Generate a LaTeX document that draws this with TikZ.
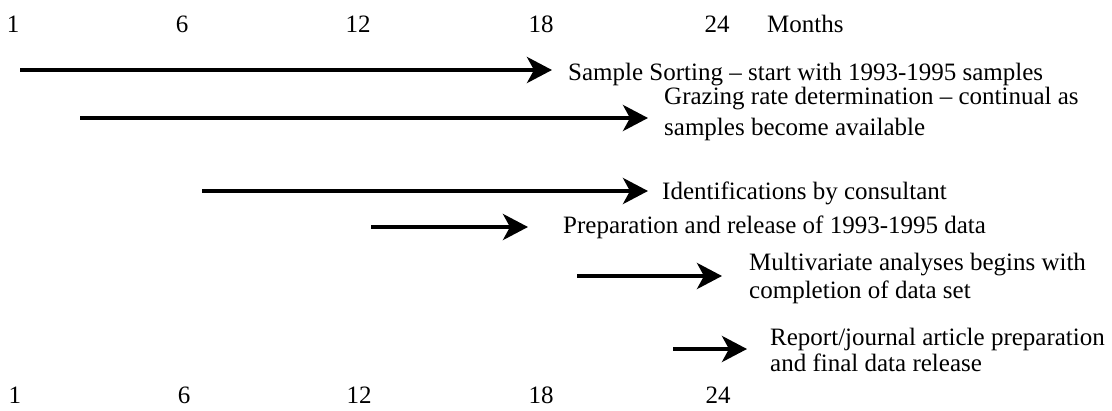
\documentclass[tikz,border=0pt]{standalone}
\usepackage{fontspec}
\setmainfont{Liberation Serif}
\usetikzlibrary{arrows.meta}
\begin{document}
\begin{tikzpicture}[x=1pt,y=-1pt,
  lbl/.style={anchor=base west,inner sep=0pt,font=\fontsize{25}{28}\selectfont},
  num/.style={anchor=base,inner sep=0pt,font=\fontsize{25}{28}\selectfont},
  bar/.style={line width=4pt,-{Stealth[length=25pt,width=26pt,inset=7pt]}}]
\useasboundingbox (0,0) rectangle (1112,410);
% top axis
\node[num] (a1) at (13,32) {1};
\node[num] (a6) at (182,32) {6};
\node[num] (a12) at (358,32) {12};
\node[num] (a18) at (541,32) {18};
\node[num] (a24) at (717,32) {24};
\node[lbl] (am) at (767,32) {Months};
% bottom axis
\node[num] (b1) at (15,403) {1};
\node[num] (b6) at (184,403) {6};
\node[num] (b12) at (359,403) {12};
\node[num] (b18) at (541,403) {18};
\node[num] (b24) at (718,403) {24};
% tasks
\coordinate (s1) at (20,70);  \coordinate (e1) at (552,70);
\node[lbl] (t1) at (568,80) {Sample Sorting – start with 1993-1995 samples};
\coordinate (s2) at (80,118); \coordinate (e2) at (648,118);
\node[lbl] (t2a) at (664,104) {Grazing rate determination – continual as};
\node[lbl] (t2b) at (664,135) {samples become available};
\coordinate (s3) at (202,191); \coordinate (e3) at (648,191);
\node[lbl] (t3) at (662,199) {Identifications by consultant};
\coordinate (s4) at (371,227); \coordinate (e4) at (528,227);
\node[lbl] (t4) at (563,233) {Preparation and release of 1993-1995 data};
\coordinate (s5) at (577,276); \coordinate (e5) at (722,276);
\node[lbl] (t5a) at (749,270) {Multivariate analyses begins with};
\node[lbl] (t5b) at (749,298) {completion of data set};
\coordinate (s6) at (673,349); \coordinate (e6) at (747,349);
\node[lbl] (t6a) at (770,345) {Report/journal article preparation};
\node[lbl] (t6b) at (770,371) {and final data release};
\draw[bar] (s1) -- (e1);
\draw[bar] (s2) -- (e2);
\draw[bar] (s3) -- (e3);
\draw[bar] (s4) -- (e4);
\draw[bar] (s5) -- (e5);
\draw[bar] (s6) -- (e6);
\end{tikzpicture}
\end{document}
